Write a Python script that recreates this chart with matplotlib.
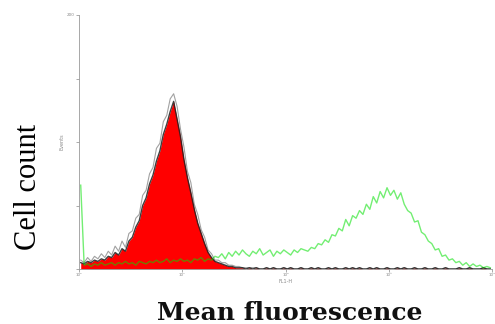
import numpy as np
import matplotlib
matplotlib.use("Agg")
import matplotlib.pyplot as plt

# ---- data (counts per channel, 30 channels per decade, 10^0 .. 10^4) ----
n_per_decade = 30
red_counts = [
    5, 4, 6, 5, 7, 6, 8, 7, 10, 9,
    13, 11, 16, 14, 22, 25, 33, 38, 50, 56,
    67, 74, 85, 93, 106, 114, 124, 132, 118, 104,
    86, 72, 60, 47, 36, 28, 20, 13, 9, 6,
    5, 4, 3, 2, 2, 1, 1, 1, 0, 1,
    0, 1, 0, 0, 1, 0, 1, 0, 0, 1,
    0, 1, 0, 0, 1, 0, 0, 1, 0, 1,
    0, 0, 1, 0, 1, 0, 0, 1, 0, 1,
    0, 1, 0, 0, 1, 0, 1, 0, 0, 1,
    0, 0, 1, 0, 1, 0, 0, 1, 0, 0,
    1, 0, 0, 1, 0, 0, 1, 0, 0, 0,
    1, 0, 0, 1, 0, 0, 0, 1, 0, 0,
]
red_peaks = [
    7, 5, 9, 6, 10, 8, 12, 9, 14, 11,
    18, 14, 22, 17, 28, 30, 40, 43, 58, 62,
    75, 80, 95, 99, 116, 121, 134, 138, 128, 110,
    96, 77, 68, 51, 43, 31, 25, 15, 12, 7,
    7, 5, 5, 3, 3, 2, 2, 1, 1, 1,
    1, 1, 0, 0, 1, 0, 1, 0, 0, 1,
    0, 1, 0, 0, 1, 0, 0, 1, 0, 1,
    0, 0, 1, 0, 1, 0, 0, 1, 0, 1,
    0, 1, 0, 0, 1, 0, 1, 0, 0, 1,
    0, 0, 1, 0, 1, 0, 0, 1, 0, 0,
    1, 0, 0, 1, 0, 0, 1, 0, 0, 0,
    1, 0, 0, 1, 0, 0, 0, 1, 0, 0,
]
green_counts = [
    66, 3, 4, 2, 4, 3, 5, 3, 4, 5,
    3, 5, 4, 6, 4, 5, 3, 6, 5, 4,
    6, 5, 7, 5, 6, 8, 5, 7, 6, 8,
    6, 7, 5, 8, 7, 9, 6, 8, 7, 10,
    9, 12, 8, 13, 10, 14, 11, 15, 12, 10,
    14, 12, 16, 11, 13, 15, 10, 14, 12, 15,
    13, 11, 15, 13, 16, 15, 14, 17, 16, 20,
    19, 23, 21, 27, 26, 32, 30, 39, 34, 42,
    40, 46, 43, 51, 47, 57, 52, 61, 56, 64,
    58, 62, 55, 60, 51, 46, 44, 37, 38, 29,
    27, 22, 20, 15, 16, 10, 11, 7, 8, 5,
    6, 3, 5, 2, 4, 2, 3, 1, 2, 1,
]
x_ticks = [1, 10, 100, 1000, 10000]
x_tick_labels = ["10⁰", "10¹", "10²", "10³", "10⁴"]
y_ticks = [0, 50, 100, 150, 200]
y_tick_labels = ["", "", "", "", "200"]
x_title = "Mean fluorescence"
y_title = "Cell count"
x_axis_name = "FL1-H"
y_axis_name = "Events"

# ---- figure ----
fig = plt.figure(figsize=(4.95, 3.24), dpi=100)
ax = fig.add_axes([79 / 495, 1 - 269 / 324, 413 / 495, 254 / 324])

n_bins = len(red_counts)
centers = 10 ** ((np.arange(n_bins) + 0.5) / n_per_decade)

ax.plot(centers, red_peaks, color="#8a8a8a", lw=0.8, alpha=0.8)
ax.fill_between(centers, red_counts, 0, color="#ff0000", lw=0)
ax.plot(centers, red_counts, color="#202020", lw=1.0, alpha=0.85)
ax.plot(centers, green_counts, color="#00e000", lw=1.0, alpha=0.55)

ax.set_xscale("log")
ax.set_xlim(1, 10000)
ax.set_ylim(0, 200)
ax.set_xticks(x_ticks)
ax.set_xticklabels(x_tick_labels)
ax.minorticks_off()
ax.set_yticks(y_ticks)
ax.set_yticklabels(y_tick_labels)
ax.tick_params(axis="both", length=2, width=0.5, colors="#888888",
               labelsize=3, pad=1)

for s in ("top", "right"):
    ax.spines[s].set_visible(False)
for s in ("left", "bottom"):
    ax.spines[s].set_color("#999999")
    ax.spines[s].set_linewidth(0.6)

ax.set_xlabel(x_axis_name, fontsize=3.5, color="#888888", labelpad=1)
ax.set_ylabel(y_axis_name, fontsize=3.5, color="#888888", labelpad=2)

fig.text(28 / 495, 1 - 187 / 324, y_title, rotation=90, ha="center", va="center",
         family="Liberation Serif", fontsize=22, color="black")
fig.text(290 / 495, 1 - 320 / 324, x_title, ha="center", va="baseline",
         family="DejaVu Serif", fontweight="bold", fontsize=18, color="#111111")

fig.savefig("out.png", dpi=100)
